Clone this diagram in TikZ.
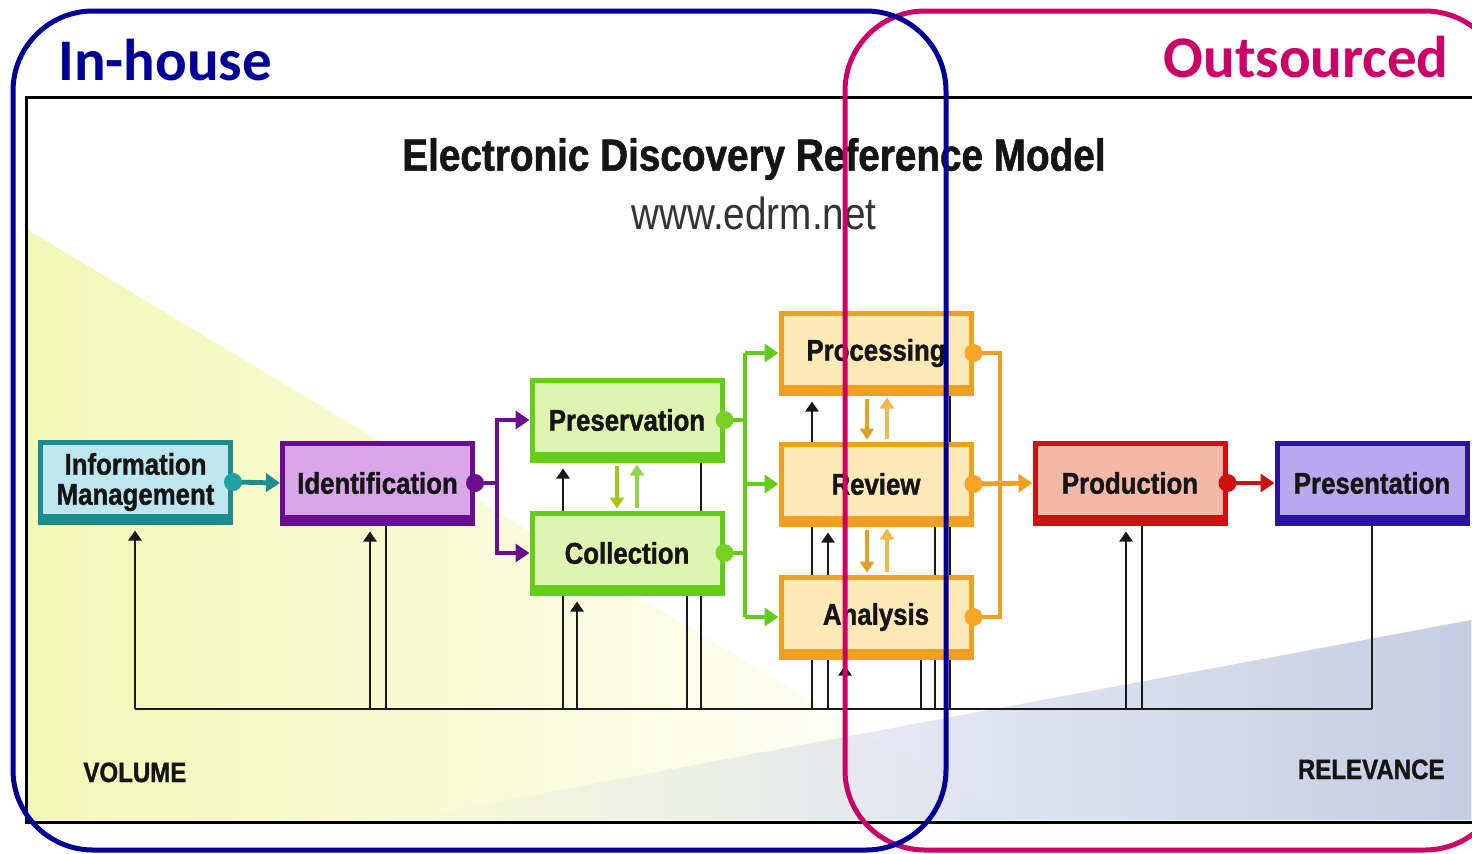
\documentclass[tikz,border=0pt]{standalone}
\usepackage{fontspec}
\usetikzlibrary{arrows.meta,fadings}
\newfontfamily\calib{Carlito}
\newfontfamily\cond[FakeStretch=0.86, BoldFeatures={FakeBold=1.2}]{Liberation Sans}
\definecolor{inblue}{HTML}{000099}
\definecolor{outmag}{HTML}{CC0066}
\definecolor{yel}{HTML}{F2F8B6}
\definecolor{blu}{HTML}{C6CCE3}
\definecolor{txt}{HTML}{151515}
\definecolor{tealb}{HTML}{1E8C8C}
\definecolor{tealf}{HTML}{BEE6EE}
\definecolor{tealdot}{HTML}{22A0A0}
\definecolor{purb}{HTML}{6A0D91}
\definecolor{purf}{HTML}{D9A6EA}
\definecolor{grnb}{HTML}{66CC1A}
\definecolor{grnf}{HTML}{DDF5B0}
\definecolor{grndot}{HTML}{77D022}
\definecolor{grndn}{HTML}{A8C41C}
\definecolor{grnup}{HTML}{8CD848}
\definecolor{orb}{HTML}{F0A020}
\definecolor{orf}{HTML}{FDE8B8}
\definecolor{ordot}{HTML}{F5A623}
\definecolor{ordn}{HTML}{E0A028}
\definecolor{orup}{HTML}{F2B84A}
\definecolor{redb}{HTML}{D01010}
\definecolor{redf}{HTML}{F4B8A8}
\definecolor{prsb}{HTML}{2A1499}
\definecolor{prsf}{HTML}{B8A8EE}
\begin{document}
\begin{tikzpicture}[x=0.5pt,y=-0.5pt,
  stage/.style 2 args={draw=#1, fill=#2, line width=2.5pt, minimum width=95pt,
    minimum height=40pt, inner sep=0pt, align=center, text=txt,
    font=\cond\bfseries\fontsize{15}{15}\selectfont,
    path picture={\fill[#1] (path picture bounding box.south west) rectangle ([yshift=4pt]path picture bounding box.south east);}},
  conn/.style={draw=#1, line width=2.4pt, -{Triangle[length=7pt,width=9pt]}},
  link/.style={draw=#1, line width=2.4pt},
  small/.style={draw=#1, line width=1.6pt, -{Triangle[length=5.5pt,width=7pt]}, shorten >=1pt, shorten <=1.5pt},
  fb/.style={draw=black!90, line width=1.4pt},
  fbarrow/.style={fb, -{Triangle[length=5pt,width=6.5pt]}, shorten >=3pt},
  label/.style={inner sep=0pt, text=txt}]
\useasboundingbox (0,0) rectangle (1472,853);
\clip (0,0) rectangle (1472,853);
% background shading
\fill[yel, path fading=east] (28,230) -- (28,820) -- (1010,820) -- cycle;
\fill[blu, path fading=west] (400,820) -- (1472,620) -- (1472,820) -- cycle;
% frame
\draw[line width=1.5pt, black] (26,97) rectangle (1495,822);
% title
\node[label, font=\cond\bfseries\fontsize{22.5}{27}\selectfont] (title) at (754,159) {Electronic Discovery Reference Model};
\node[label, text=black!80, font=\cond\fontsize{22.5}{27}\selectfont] (url) at (754,213) {www.edrm.net};
\node[label, anchor=base west, font=\cond\bfseries\fontsize{14}{16}\selectfont] (vol) at (83,782) {VOLUME};
\node[label, anchor=base east, font=\cond\bfseries\fontsize{14}{16}\selectfont] (relv) at (1445,779) {RELEVANCE};
% feedback coordinates
\coordinate (a1) at (135,709);
\coordinate (a2) at (370,709);
\coordinate (a3) at (386,709);
\coordinate (a4) at (563,709);
\coordinate (a5) at (577,709);
\coordinate (a6) at (687,709);
\coordinate (a7) at (701,709);
\coordinate (a8) at (812,709);
\coordinate (a9) at (828,709);
\coordinate (a10) at (845,709);
\coordinate (a11) at (921,709);
\coordinate (a12) at (935,709);
\coordinate (a13) at (950,709);
\coordinate (a14) at (1126,709);
\coordinate (a15) at (1142,709);
\coordinate (a16) at (1372,709);
% stages
\node[stage={tealb}{tealf}] (im) at (135.5,482) {Information\\Management};
\node[stage={purb}{purf}] (id) at (377.5,483) {Identification};
\node[stage={grnb}{grnf}] (pres) at (627,420) {Preservation};
\node[stage={grnb}{grnf}] (coll) at (627,553) {Collection};
\node[stage={orb}{orf}] (proc) at (876,353) {Processing};
\node[stage={orb}{orf}] (rev) at (876,484) {Review};
\node[stage={orb}{orf}] (ana) at (876,617) {Analysis};
\node[stage={redb}{redf}] (prod) at (1130,483) {Production};
\node[stage={prsb}{prsf}] (prst) at (1372,483) {Presentation};
% feedback lines
\draw[fb] (a1) -- (a16);
\draw[fbarrow] (a1) -- (a1 |- im.south);
\draw[fbarrow] (a2) -- (a2 |- id.south);
\draw[fb] (a3) -- (a3 |- id.south);
\draw[fb] (a4) -- (a4 |- coll.south);
\draw[fbarrow] (a5) -- (a5 |- coll.south);
\draw[fb] (a6) -- (a6 |- coll.south);
\draw[fb] (a7) -- (a7 |- coll.south);
\draw[fbarrow] (a4 |- coll.north) -- (a4 |- pres.south);
\draw[fb] (a7 |- coll.north) -- (a7 |- pres.south);
\draw[fb] (a8) -- (a8 |- ana.south);
\draw[fb] (a9) -- (a9 |- ana.south);
\draw[fbarrow] (a10) -- (a10 |- ana.south);
\draw[fb] (a11) -- (a11 |- ana.south);
\draw[fb] (a12) -- (a12 |- ana.south);
\draw[fb] (a13) -- (a13 |- ana.south);
\draw[fb] (a8 |- ana.north) -- (a8 |- rev.south);
\draw[fbarrow] (a9 |- ana.north) -- (a9 |- rev.south);
\draw[fb] (a12 |- ana.north) -- (a12 |- rev.south);
\draw[fb] (a13 |- ana.north) -- (a13 |- rev.south);
\draw[fbarrow] (a8 |- rev.north) -- (a8 |- proc.south);
\draw[fb] (a13 |- rev.north) -- (a13 |- proc.south);
\draw[fbarrow] (a14) -- (a14 |- prod.south);
\draw[fb] (a15) -- (a15 |- prod.south);
\draw[fb] (a16) -- (a16 |- prst.south);
% colored connectors
\coordinate (idb) at (497,483);
\coordinate (gb) at (745,484);
\coordinate (ob) at (1000,484);
\draw[conn=tealb] (im.east) -- (id.west);
\draw[link=purb] (id.east) -- (idb);
\draw[conn=purb] (idb) |- (pres.west);
\draw[conn=purb] (idb) |- (coll.west);
\draw[link=grnb] (pres.east) -| (gb);
\draw[link=grnb] (coll.east) -| (gb);
\draw[link=grnb] (gb |- proc.west) -- (gb |- ana.west);
\draw[conn=grnb] (gb |- proc.west) -- (proc.west);
\draw[conn=grnb] (gb) -- (rev.west);
\draw[conn=grnb] (gb |- ana.west) -- (ana.west);
\draw[link=orb] (proc.east) -| (ob);
\draw[link=orb] (ana.east) -| (ob);
\draw[conn=orb] (rev.east) -- (prod.west);
\draw[conn=redb] (prod.east) -- (prst.west);
% dots
\fill[tealdot] (im.east) circle[radius=4.5pt];
\fill[purb] (id.east) circle[radius=4.5pt];
\fill[grndot] (pres.east) circle[radius=4.5pt];
\fill[grndot] (coll.east) circle[radius=4.5pt];
\fill[ordot] (proc.east) circle[radius=4.5pt];
\fill[ordot] (rev.east) circle[radius=4.5pt];
\fill[ordot] (ana.east) circle[radius=4.5pt];
\fill[redb] (prod.east) circle[radius=4.5pt];
% small two-way arrows
\draw[small=grndn] ([xshift=-5pt]pres.south) -- ([xshift=-5pt]coll.north);
\draw[small=grnup] ([xshift=5pt]coll.north) -- ([xshift=5pt]pres.south);
\draw[small=ordn] ([xshift=-4.5pt]proc.south) -- ([xshift=-4.5pt]rev.north);
\draw[small=orup] ([xshift=5.5pt]rev.north) -- ([xshift=5.5pt]proc.south);
\draw[small=ordn] ([xshift=-4.5pt]rev.south) -- ([xshift=-4.5pt]ana.north);
\draw[small=orup] ([xshift=5.5pt]ana.north) -- ([xshift=5.5pt]rev.south);
% in-house / outsourced outlines
\draw[outmag, line width=2.5pt, rounded corners=40pt] (845,11) rectangle (1505,850);
\draw[inblue, line width=2.5pt, rounded corners=40pt] (13,11) rectangle (946,850);
\node[label, text=inblue, anchor=base west, font=\calib\bfseries\fontsize{29.5}{35}\selectfont] (inh) at (58,80) {In-house};
\node[label, text=outmag, anchor=base east, font=\calib\bfseries\fontsize{29.5}{35}\selectfont] (outs) at (1449,77) {Outsourced};
\end{tikzpicture}
\end{document}
